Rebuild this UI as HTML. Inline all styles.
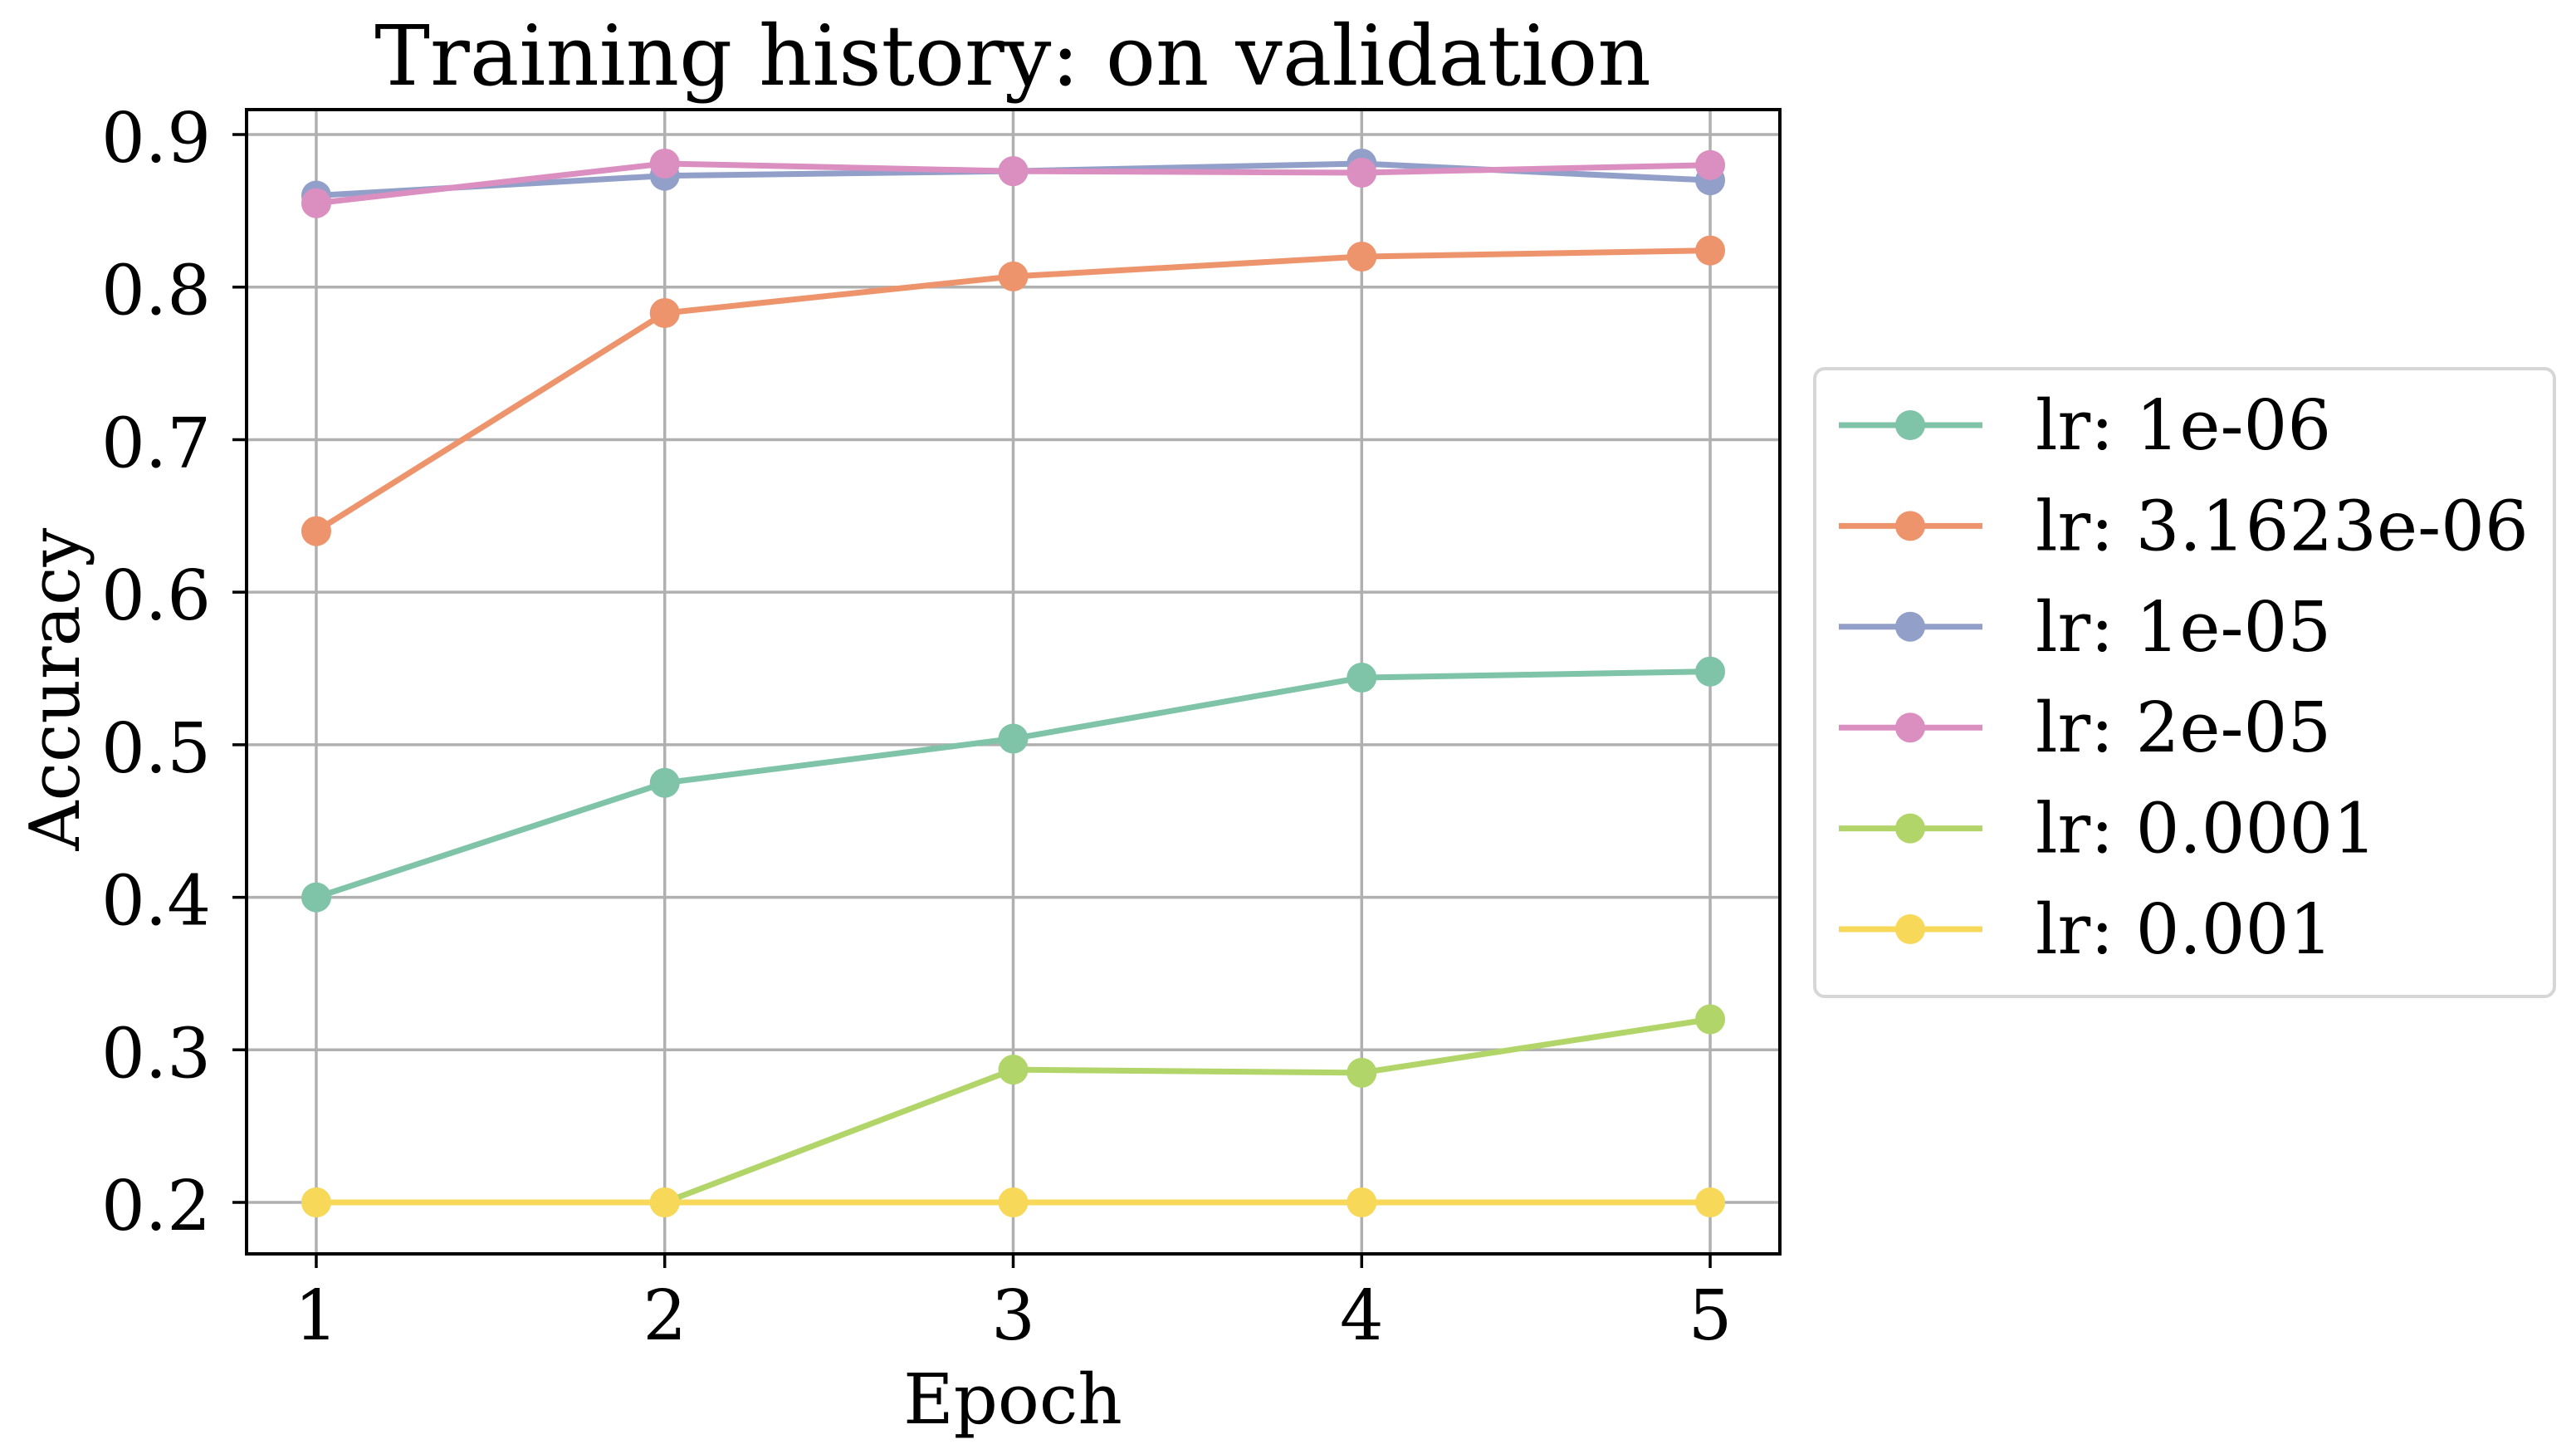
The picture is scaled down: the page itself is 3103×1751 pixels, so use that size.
<!DOCTYPE html>
<html><head><meta charset="utf-8"><style>
html,body{margin:0;padding:0;background:#fff}
svg{display:block}
text{font-family:"DejaVu Serif","Liberation Serif",serif;fill:#000}
</style></head><body>
<svg id="chart" width="3103" height="1751" viewBox="0 0 3103 1751" xmlns="http://www.w3.org/2000/svg">
<rect width="3103" height="1751" fill="#fff"/>
<g id="grid"></g>
<g id="series"></g>
<rect x="297" y="132" width="1847" height="1378" fill="none" stroke="#000" stroke-width="4"/>
<g id="ticks"></g>
<text x="1220" y="102" font-size="100" text-anchor="middle">Training history: on validation</text>
<text x="1220" y="1714" font-size="83" text-anchor="middle">Epoch</text>
<text x="0" y="0" font-size="83" text-anchor="middle" transform="translate(95,830) rotate(-90)">Accuracy</text>
<g id="legend"></g>
</svg>
<script>
const epochs = [1, 2, 3, 4, 5];
const yTicks = [0.2, 0.3, 0.4, 0.5, 0.6, 0.7, 0.8, 0.9];
const seriesLabels = ["lr: 1e-06", "lr: 3.1623e-06", "lr: 1e-05", "lr: 2e-05", "lr: 0.0001", "lr: 0.001"];
const seriesColors = ["#7fc3a8", "#ee946c", "#92a0c9", "#db8fc0", "#b2d569", "#f8d858"];
const acc_1e06 = [0.400, 0.475, 0.504, 0.544, 0.548];
const acc_3e06 = [0.640, 0.783, 0.807, 0.820, 0.824];
const acc_1e05 = [0.860, 0.873, 0.876, 0.881, 0.870];
const acc_2e05 = [0.855, 0.881, 0.876, 0.875, 0.880];
const acc_1e04 = [0.200, 0.200, 0.287, 0.285, 0.320];
const acc_1e03 = [0.200, 0.200, 0.200, 0.200, 0.200];
const seriesData = [acc_1e06, acc_3e06, acc_1e05, acc_2e05, acc_1e04, acc_1e03];

const NS = "http://www.w3.org/2000/svg";
const L = 297, R = 2144, T = 132, B = 1510;
const xMin = 0.8, xMax = 5.2, yMin = 0.16625, yMax = 0.91635;
function xs(v){ return L + (v - xMin) / (xMax - xMin) * (R - L); }
function ys(v){ return B - (v - yMin) / (yMax - yMin) * (B - T); }
function mk(tag, attrs, parent){ const e = document.createElementNS(NS, tag); for (const k in attrs) e.setAttribute(k, attrs[k]); parent.appendChild(e); return e; }

const grid = document.getElementById("grid");
const ticks = document.getElementById("ticks");
epochs.forEach(function(e){
  const x = xs(e);
  const g = mk("line", {x1:x, x2:x, y1:T, y2:B, stroke:"#b0b0b0", "stroke-width":3.5}, grid);
  
  
  const t = mk("line", {x1:x, x2:x, y1:B, y2:B+17, stroke:"#000", "stroke-width":3.5}, ticks);
  
  
  const lb = mk("text", {x:x, y:1613, "font-size":83, "text-anchor":"middle"}, ticks);
  lb.textContent = String(e);
  
  
});
yTicks.forEach(function(v){
  const y = ys(v);
  const g = mk("line", {x1:L, x2:R, y1:y, y2:y, stroke:"#b0b0b0", "stroke-width":3.5}, grid);
  
  
  const t = mk("line", {x1:L-17, x2:L, y1:y, y2:y, stroke:"#000", "stroke-width":3.5}, ticks);
  
  
  const lb = mk("text", {x:254, y:y+33, "font-size":83, "text-anchor":"end"}, ticks);
  lb.textContent = v.toFixed(1);
  
  
});

const sg = document.getElementById("series");
seriesData.forEach(function(vals, i){
  const grp = mk("g", {}, sg);
  
  
  const pts = vals.map(function(v, j){ return xs(epochs[j]) + "," + ys(v); }).join(" ");
  const pl = mk("polyline", {points:pts, fill:"none", stroke:seriesColors[i], "stroke-width":7, "stroke-linejoin":"round", "stroke-linecap":"square"}, grp);
  
  
  vals.forEach(function(v, j){
    const c = mk("circle", {cx:xs(epochs[j]), cy:ys(v), r:18, fill:seriesColors[i]}, grp);
    
    
  });
});

const lg = document.getElementById("legend");
const box = mk("rect", {x:2186, y:444, width:891, height:756, rx:12, fill:"#fff", stroke:"#d6d6d6", "stroke-width":4}, lg);


seriesLabels.forEach(function(lab, i){
  const y = 512 + i * 121.4;
  const ent = mk("g", {}, lg);
  
  
  const ln = mk("line", {x1:2215, x2:2388, y1:y, y2:y, stroke:seriesColors[i], "stroke-width":7}, ent);
  
  
  const c = mk("circle", {cx:2301, cy:y, r:18, fill:seriesColors[i]}, ent);
  
  
  const t = mk("text", {x:2452, y:y+29, "font-size":83}, ent);
  t.textContent = lab;
  
  
});
</script>
</body></html>
